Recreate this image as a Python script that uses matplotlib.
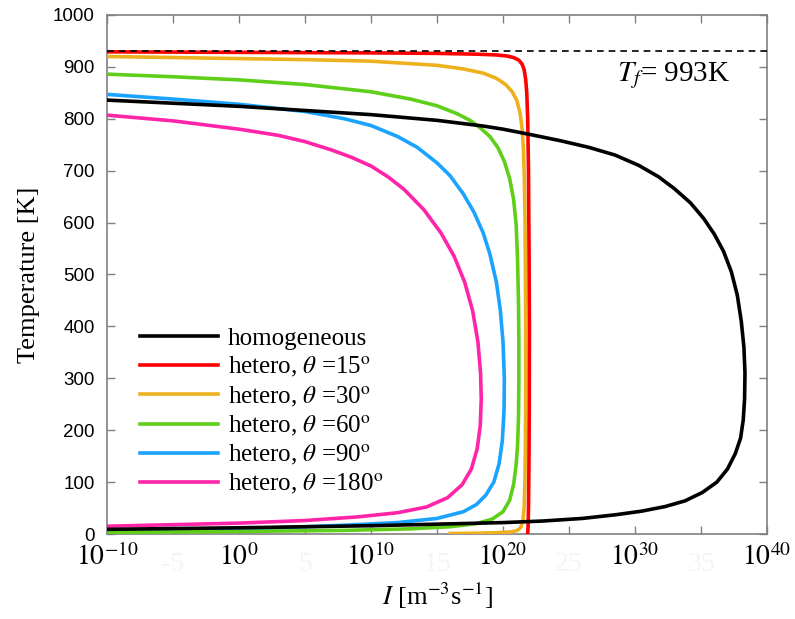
import numpy as np
import matplotlib.pyplot as plt
from matplotlib.ticker import FixedLocator, FixedFormatter

plt.rcParams['font.family'] = 'Liberation Serif'
plt.rcParams['mathtext.fontset'] = 'stix'

# log10 of nucleation rate I and temperature T
homo_logI = [-10, -5, 0, 5, 10, 15, 18.5, 20, 22, 24.3, 26.5, 28.5, 30.3, 31.8, 33, 34.2, 35.2, 36,
             36.7, 37.3, 37.75, 38.05, 38.25, 38.33, 38.3, 38.2, 38.0, 37.6, 37.0, 36.2, 35.1, 33.8,
             32.3, 30.5, 28.5, 26, 23, 20, 15, 10, 5, 0, -5, -10]
homo_T = [836, 830, 824, 816, 808, 797, 786, 780, 770, 758, 745, 730, 710, 688, 665, 638, 608, 578,
          545, 505, 460, 410, 360, 310, 260, 220, 185, 155, 125, 100, 80, 64,
          53, 44, 37, 30, 25, 22, 19, 16, 14, 12, 10.5, 9]

h15_logI = [-10, 0, 10, 15, 18, 19.5, 20.3, 20.8, 21.2, 21.45, 21.6, 21.72, 21.8, 21.87, 21.93,
            21.97, 22.0, 21.99, 21.96, 21.93, 21.9, 21.87]
h15_T = [929, 928, 927, 926, 924.5, 923, 921, 918, 913, 905, 895, 875, 850, 800, 700,
         550, 400, 250, 120, 50, 15, 1]

h30_logI = [-10, -5, 0, 5, 10, 15, 17, 18.5, 19.5, 20.2, 20.7, 21.05, 21.3, 21.45, 21.55, 21.62,
            21.67, 21.71, 21.72, 21.7, 21.66, 21.6, 21.5, 21.35, 21.1, 20.6, 19.5, 18, 16]
h30_T = [920, 918, 916, 914, 911, 903, 896, 888, 878, 866, 852, 835, 810, 780, 740, 680,
         600, 450, 300, 180, 100, 50, 25, 13, 7, 4, 2.5, 1.5, 1]

h60_logI = [-10, -5, 0, 5, 10, 13, 15, 16.5, 17.5, 18.3, 19, 19.6, 20.1, 20.5, 20.8, 21.0, 21.1,
            21.17, 21.2, 21.2, 21.17, 21.1, 21.0, 20.8, 20.5, 20, 19.2, 18, 16, 13, 8, 0, -10]
h60_T = [886, 881, 875, 866, 852, 838, 825, 810, 797, 782, 766, 745, 718, 685, 645, 595, 530,
         450, 370, 290, 220, 170, 135, 95, 65, 43, 29, 20, 14, 10, 7, 5, 3]

h90_logI = [-10, -5, 0, 5, 8, 10, 12, 13.5, 15, 16, 17, 17.8, 18.5, 19, 19.5, 19.8, 20.0, 20.1,
            20.08, 19.95, 19.7, 19.3, 18.7, 18, 17, 15, 12, 8, 3, -3, -10]
h90_T = [847, 838, 828, 814, 800, 787, 766, 745, 715, 690, 655, 620, 580, 540, 485, 430, 370, 300,
         240, 180, 135, 100, 75, 57, 43, 30, 22, 17, 12, 9, 6]

h180_logI = [-10, -5, 0, 3, 5, 7, 8.5, 10, 11.3, 12.5, 14, 15.3, 16.3, 17.1, 17.7, 18.1, 18.3, 18.35,
             18.28, 18.05, 17.6, 16.9, 15.8, 14.2, 12, 9, 5, 0, -5, -10]
h180_T = [807, 796, 780, 768, 756, 740, 726, 709, 688, 664, 625, 580, 535, 485, 430, 370, 310, 260,
          210, 165, 125, 95, 70, 52, 41, 33, 26, 21, 18, 15]

Tf_line = 930

fig = plt.figure(figsize=(7.95, 6.19), dpi=100)
ax = fig.add_axes([0.1346, 0.1373, 0.8302, 0.8385])

lw = 2.6
ax.plot(10.0**np.array(h15_logI), h15_T, color='#ff0000', lw=lw, zorder=3)
ax.plot(10.0**np.array(h30_logI), h30_T, color='#edb120', lw=lw, zorder=2.9)
ax.plot(10.0**np.array(h60_logI), h60_T, color='#5fcf1a', lw=lw, zorder=2.8)
ax.plot(10.0**np.array(h90_logI), h90_T, color='#1aa3ff', lw=lw, zorder=2.7)
ax.plot(10.0**np.array(h180_logI), h180_T, color='#ff24a8', lw=lw, zorder=2.6)
ax.plot(10.0**np.array(homo_logI), homo_T, color='black', lw=lw, zorder=3.1)

ax.axhline(Tf_line, color='black', lw=1.2, ls=(0, (4, 3)), zorder=4)
ax.text(10**32.9, 884, '$T_f$= 993K', fontsize=21, ha='center', va='center')

# legend built from proxy lines
labels = ['homogeneous',
          r'hetero, $\theta$ =15$^{\mathrm{o}}$',
          r'hetero, $\theta$ =30$^{\mathrm{o}}$',
          r'hetero, $\theta$ =60$^{\mathrm{o}}$',
          r'hetero, $\theta$ =90$^{\mathrm{o}}$',
          r'hetero, $\theta$ =180$^{\mathrm{o}}$']
colors = ['black', '#ff0000', '#edb120', '#5fcf1a', '#1aa3ff', '#ff24a8']
handles = [plt.Line2D([], [], color=c, lw=lw) for c in colors]
ax.legend(handles, labels, loc='upper left', bbox_to_anchor=(0.05, 0.398), frameon=False,
          fontsize=18, handlelength=3.1, handletextpad=0.4, labelspacing=0.2, borderpad=0,
          borderaxespad=0)

ax.set_xscale('log')
ax.set_xlim(1e-10, 1e40)
ax.set_ylim(0, 1000)

major = [10.0**k for k in range(-10, 41, 10)]
minor = [10.0**k for k in range(-5, 36, 10)]
ax.xaxis.set_major_locator(FixedLocator(major))
ax.xaxis.set_major_formatter(FixedFormatter(['$10^{%d}$' % k for k in range(-10, 41, 10)]))
ax.xaxis.set_minor_locator(FixedLocator(minor))
ax.xaxis.set_minor_formatter(FixedFormatter(['%d' % k for k in range(-5, 36, 10)]))
ax.set_yticks(range(0, 1001, 100))

ax.tick_params(axis='x', which='major', direction='in', top=True, length=6, width=1,
               color='#808080', labelsize=20, pad=7)
ax.tick_params(axis='x', which='minor', direction='in', top=True, length=6, width=1,
               color='#808080', labelsize=20, pad=13, labelcolor='#f4f4f4')
ax.tick_params(axis='y', direction='in', right=True, length=6, width=1, color='#808080',
               labelsize=13.5, pad=9)
for lab in ax.get_yticklabels():
    lab.set_fontfamily('Liberation Sans')
for s in ax.spines.values():
    s.set_color('#808080')
    s.set_linewidth(1.2)

ax.set_xlabel('$I$ [m$^{-3}$s$^{-1}$]', fontsize=19, labelpad=3)
ax.set_ylabel('Temperature [K]', fontsize=19, labelpad=9)

fig.savefig('out.png', dpi=100)
